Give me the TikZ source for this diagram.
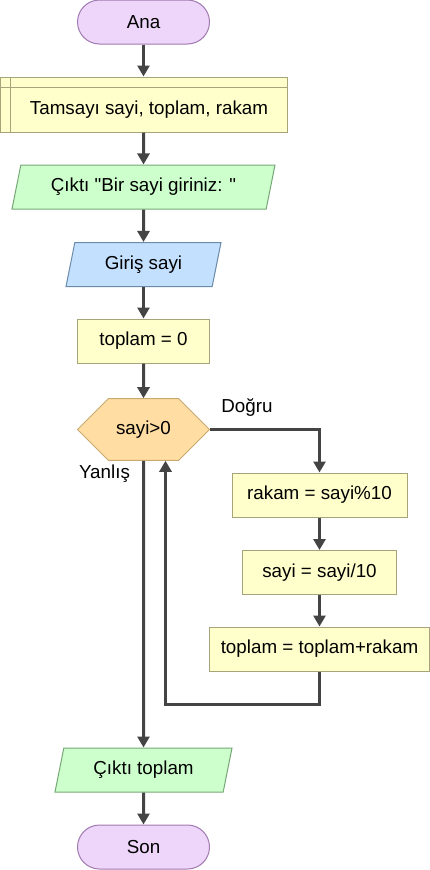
\documentclass[tikz,border=0pt]{standalone}
\usepackage{fontspec}
\setmainfont{Liberation Sans}[Ligatures=TeXOff]
\usepackage{tikz}
\usetikzlibrary{
    arrows.meta,
    shapes.geometric,
    shapes.misc,
    positioning
}
\definecolor{cizgi}{HTML}{444444}
\definecolor{termdolgu}{HTML}{EED5FA}
\definecolor{termkenar}{HTML}{A07AB0}
\definecolor{isdolgu}{HTML}{FFFFCC}
\definecolor{iskenar}{HTML}{A6A478}
\definecolor{cikdolgu}{HTML}{CCFFCC}
\definecolor{cikkenar}{HTML}{78A878}
\definecolor{girdolgu}{HTML}{C4E0FF}
\definecolor{girkenar}{HTML}{6B8BAB}
\definecolor{kardolgu}{HTML}{FFDDA3}
\definecolor{karkenar}{HTML}{C8AA70}

\begin{document}
\begin{tikzpicture}[x=1pt, y=-1pt,
    font=\fontsize{18.8}{22}\selectfont,
    kutu/.style={line width=1pt, inner sep=0pt, minimum height=44pt},
    term/.style={kutu, rectangle, rounded corners=22pt, fill=termdolgu, draw=termkenar, minimum width=132pt},
    islem/.style={kutu, rectangle, fill=isdolgu, draw=iskenar},
    tanim/.style={islem, minimum height=55pt, text height=24.4pt, text depth=3.95pt},
    egik/.style={kutu, trapezium, trapezium left angle=63.4, trapezium right angle=116.6, trapezium stretches body},
    cikti/.style={egik, fill=cikdolgu, draw=cikkenar},
    girdi/.style={egik, fill=girdolgu, draw=girkenar},
    karar/.style={kutu, chamfered rectangle, chamfered rectangle xsep=18pt, chamfered rectangle ysep=22pt, fill=kardolgu, draw=karkenar, minimum width=132pt},
    ok/.style={draw=cizgi, line width=3pt, -{Triangle[width=12pt, length=11pt]}}
]
\useasboundingbox (0,0) rectangle (430,870);

\node[term] (ana) at (143.5,22) {Ana};
\node[tanim, minimum width=287pt] (tanimla) at (143.5,104.5) {\hspace*{11pt}Tamsayı sayi, toplam, rakam};
\draw[line width=1pt, draw=iskenar] ([yshift=-11pt]tanimla.north west) -- ([yshift=-11pt]tanimla.north east);
\draw[line width=1pt, draw=iskenar] ([xshift=11pt]tanimla.north west) -- ([xshift=11pt]tanimla.south west);
\node[cikti, minimum width=263pt] (yaz1) at (143.5,187) {Çıktı "Bir sayi giriniz: "};
\node[girdi, minimum width=155pt] (oku) at (143.5,264.5) {Giriş sayi};
\node[islem, minimum width=132pt] (ata) at (143.5,341) {toplam = 0};
\node[karar] (kosul) at (143.5,429.5) {sayi>0};
\node[islem, minimum width=175pt] (mod) at (319.5,495) {rakam = sayi\%10};
\node[islem, minimum width=154pt] (bol) at (319.5,572.5) {sayi = sayi/10};
\node[islem, minimum width=220pt] (topla) at (319.5,649) {toplam = toplam+rakam};
\node[cikti, minimum width=177pt] (yaz2) at (143.5,770) {Çıktı toplam};
\node[term] (son) at (143.5,847) {Son};
\node (dogru) at (247,408) {Doğru};
\node (yanlis) at (104.5,474) {Yanlış};
\coordinate (geri) at (165.5,704);

\draw[ok] (ana) -- (tanimla);
\draw[ok] (tanimla) -- (yaz1);
\draw[ok] (yaz1) -- (oku);
\draw[ok] (oku) -- (ata);
\draw[ok] (ata) -- (kosul);
\draw[ok] (kosul.east) -| (mod.north);
\draw[ok] (mod) -- (bol);
\draw[ok] (bol) -- (topla);
\draw[ok] (topla.south) |- (geri) -- (geri |- kosul.south);
\draw[ok] (kosul) -- (yaz2);
\draw[ok] (yaz2) -- (son);
\end{tikzpicture}
\end{document}
